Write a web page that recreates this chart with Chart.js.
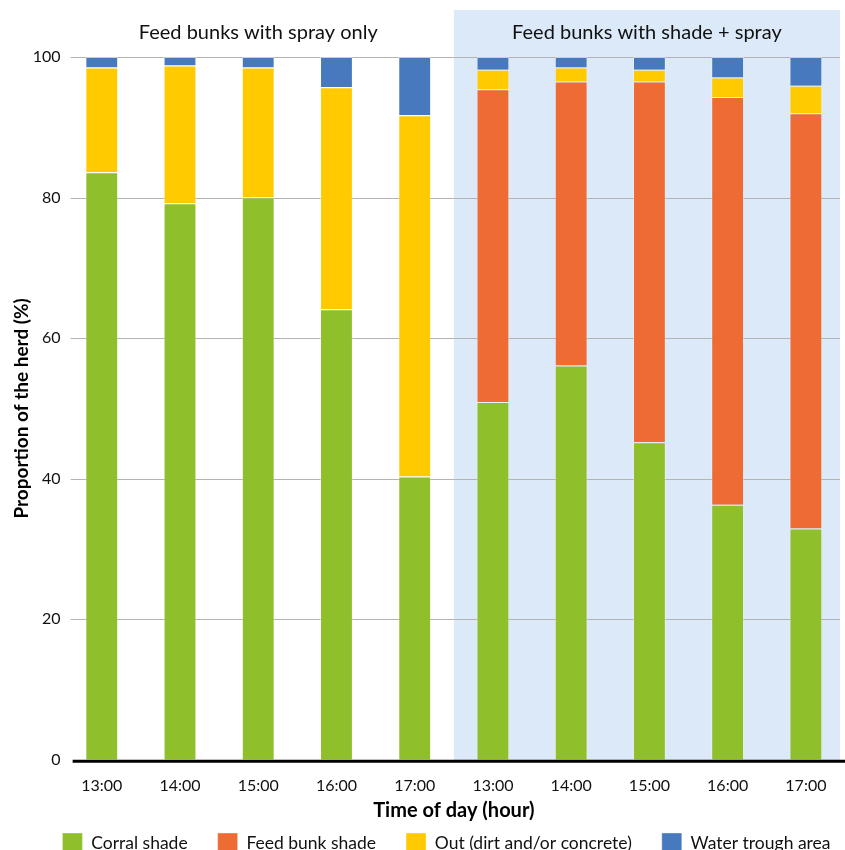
<!DOCTYPE html>
<html>
<head>
<meta charset="utf-8">
<script src="https://cdn.jsdelivr.net/npm/chart.js@4"></script>
<style>
html,body{margin:0;padding:0;background:#fff;}
#wrap{width:845px;height:850px;position:relative;}
</style>
</head>
<body>
<div id="wrap"><canvas id="c" width="845" height="850"></canvas></div>
<script>
const categories = ["13:00","14:00","15:00","16:00","17:00","13:00","14:00","15:00","16:00","17:00"];
const groupTitles = ["Feed bunks with spray only","Feed bunks with shade + spray"];
const corralShade = [83.6, 79.2, 80.0, 64.1, 40.3, 50.9, 56.1, 45.2, 36.3, 32.9];
const feedBunkShade = [0, 0, 0, 0, 0, 44.5, 40.4, 51.3, 58.0, 59.1];
const outDirt = [14.9, 19.6, 18.5, 31.6, 51.4, 2.8, 2.0, 1.7, 2.8, 3.9];
const waterTrough = [1.5, 1.2, 1.5, 4.3, 8.3, 1.8, 1.5, 1.8, 2.9, 4.1];
const yTicks = [0, 20, 40, 60, 80, 100];

const FONT = "Lato, 'Open Sans', sans-serif";

function shadeBounds(chart) {
  const x = chart.scales.x;
  const mid = (x.getPixelForValue(4) + x.getPixelForValue(5)) / 2;
  const right = chart.chartArea.right - 5;
  return { mid, right };
}

const bgPlugin = {
  id: 'bgPlugin',
  afterLayout(chart) {
    const lg = chart.legend;
    if (lg) { lg.left += 24; lg.right += 24; }
  },
  beforeDraw(chart) {
    const {ctx, chartArea} = chart;
    const {mid, right} = shadeBounds(chart);
    ctx.save();
    ctx.fillStyle = '#dbe9f8';
    ctx.fillRect(mid, 10, right - mid, chartArea.bottom + 1 - 10);
    ctx.restore();
  },
  beforeDatasetsDraw(chart) {
    const {ctx, chartArea, scales} = chart;
    ctx.save();
    ctx.strokeStyle = '#b3b3b3';
    ctx.lineWidth = 1;
    yTicks.forEach(v => {
      if (v === 0) return;
      const y = Math.round(scales.y.getPixelForValue(v)) + 0.5;
      ctx.beginPath();
      ctx.moveTo(chartArea.left + 8, y);
      ctx.lineTo(chartArea.right - 5, y);
      ctx.stroke();
    });
    ctx.restore();
  },
  afterDraw(chart) {
    const {ctx, chartArea} = chart;
    const {mid, right} = shadeBounds(chart);
    ctx.save();
    ctx.fillStyle = '#111';
    ctx.font = "20px " + FONT;
    ctx.textAlign = 'center';
    ctx.textBaseline = 'middle';
    ctx.fillText(groupTitles[0], (chartArea.left + mid) / 2, 33);
    ctx.fillText(groupTitles[1], (mid + right) / 2, 33);
    // bottom axis line
    ctx.strokeStyle = '#000';
    ctx.lineWidth = 3;
    ctx.beginPath();
    ctx.moveTo(chartArea.left + 10, chartArea.bottom + 1.5);
    ctx.lineTo(chartArea.right, chartArea.bottom + 1.5);
    ctx.stroke();
    ctx.restore();
  }
};

const mk = (label, data, color) => ({
  label, data, backgroundColor: color,
  borderColor: 'rgba(255,255,255,0.35)', borderWidth: 1,
  barPercentage: 0.42, categoryPercentage: 1.0
});

new Chart(document.getElementById('c'), {
  type: 'bar',
  data: {
    labels: categories,
    datasets: [
      mk('Corral shade', corralShade, '#8fc02c'),
      mk('Feed bunk shade', feedBunkShade, '#ef6b34'),
      mk('Out (dirt and/or concrete)', outDirt, '#ffcb00'),
      mk('Water trough area', waterTrough, '#4679bd')
    ]
  },
  options: {
    responsive: false,
    animation: false,
    layout: { padding: { top: 57, right: 0, left: 0, bottom: 0 } },
    plugins: {
      legend: {
        position: 'bottom',
        maxHeight: 47,
        labels: {
          boxWidth: 20, boxHeight: 20, padding: 30,
          color: '#111',
          font: { family: FONT, size: 17.5 }
        }
      },
      tooltip: { enabled: false }
    },
    scales: {
      x: {
        stacked: true,
        grid: { display: false, drawTicks: false },
        border: { display: false },
        ticks: { color: '#111', font: { family: FONT, size: 16 }, padding: 16, maxRotation: 0 },
        title: { display: true, text: 'Time of day (hour)', color: '#000',
          font: { family: FONT, size: 20, weight: 'bold' }, padding: { top: -12, bottom: -20 } }
      },
      y: {
        stacked: true,
        min: 0, max: 100,
        afterBuildTicks(scale) { scale.ticks = yTicks.map(v => ({ value: v })); },
        grid: { display: false, drawTicks: false },
        border: { display: false },
        ticks: { color: '#111', font: { family: FONT, size: 16 }, padding: 2 },
        title: { display: true, text: 'Proportion of the herd (%)', color: '#000',
          font: { family: FONT, size: 19, weight: 'bold' }, padding: { top: 10, bottom: -2 } }
      }
    }
  },
  plugins: [bgPlugin]
});
</script>
</body>
</html>
